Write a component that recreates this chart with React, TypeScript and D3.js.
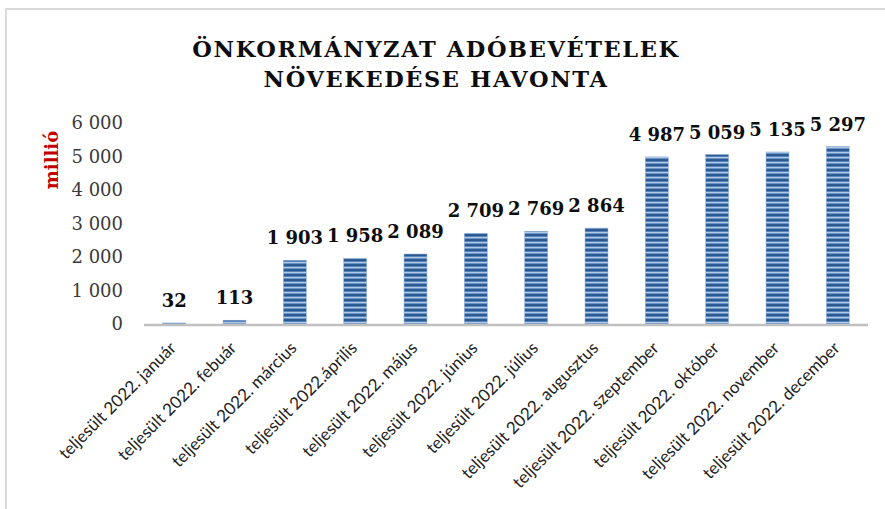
import React from "react";
import * as d3 from "d3";

const categories: string[] = [
  "teljesült 2022. január",
  "teljesült 2022. febuár",
  "teljesült 2022. március",
  "teljesült 2022.április",
  "teljesült 2022. május",
  "teljesült 2022. június",
  "teljesült 2022. július",
  "teljesült 2022. augusztus",
  "teljesült 2022. szeptember",
  "teljesült 2022. október",
  "teljesült 2022. november",
  "teljesült 2022. december",
];
const values: number[] = [32, 113, 1903, 1958, 2089, 2709, 2769, 2864, 4987, 5059, 5135, 5297];
const yTicks: number[] = [0, 1000, 2000, 3000, 4000, 5000, 6000];
const titleLines: string[] = ["ÖNKORMÁNYZAT ADÓBEVÉTELEK", "NÖVEKEDÉSE HAVONTA"];
const yAxisTitle = "millió";

const W = 885;
const H = 509;

const locale = d3.formatLocale({ decimal: ",", thousands: " ", grouping: [3], currency: ["", ""] });
const fmt = locale.format(",d");

export default function App() {
  const x = d3.scaleBand<string>().domain(categories).range([144, 868]).paddingInner(0.62).paddingOuter(0.31);
  const y = d3.scaleLinear().domain([0, 6000]).range([324, 123]);
  const serif = "'DejaVu Serif', serif";

  return (
    <svg width={W} height={H} style={{ position: "absolute", left: 0, top: 0, background: "#fff" }}>
      <defs>
        <pattern id="stripes" width={6} height={5} patternUnits="userSpaceOnUse">
          <rect x={0} y={0} width={6} height={1} fill="#285a91" />
          <rect x={0} y={1} width={6} height={1} fill="#5784ba" />
          <rect x={0} y={2} width={6} height={1} fill="#b3cae7" />
          <rect x={0} y={3} width={6} height={1} fill="#6a94c6" />
          <rect x={0} y={4} width={6} height={1} fill="#2f5d93" />
        </pattern>
      </defs>
      {/* border */}
      <rect x={6} y={9} width={W + 10} height={H + 10} fill="none" stroke="#d9d9d9" strokeWidth={2} />

      {/* title */}
      {titleLines.map((t, i) => (
        <text
          key={t}
          x={436}
          y={56.5 + i * 30.5}
          textAnchor="middle"
          fontFamily={serif}
          fontWeight="bold"
          fontSize={22.5}
          letterSpacing={1.6}
          fill="#0d0d0d"
        >
          {t}
        </text>
      ))}

      {/* y axis title */}
      <text
        transform={`translate(58,160) rotate(-90)`}
        textAnchor="middle"
        fontFamily={serif}
        fontWeight="bold"
        fontSize={18}
        fill="#c00000"
      >
        {yAxisTitle}
      </text>

      {/* y ticks */}
      {yTicks.map((t) => (
        <text
          key={t}
          x={123}
          y={y(t)}
          dy="0.36em"
          textAnchor="end"
          fontFamily={serif}
          fontSize={18}
          fill="#3a3a3a"
        >
          {fmt(t)}
        </text>
      ))}

      {/* bars */}
      {categories.map((c, i) => (
        <rect
          key={c}
          x={x(c)}
          y={y(values[i])}
          width={x.bandwidth()}
          height={y(0) - y(values[i])}
          fill="url(#stripes)"
          stroke="#8eaedb"
          strokeWidth={0.5}
        />
      ))}

      {/* x axis line */}
      <line x1={144} x2={868} y1={325} y2={325} stroke="#c0c0c0" strokeWidth={2.5} />

      {/* data labels */}
      {categories.map((c, i) => (
        <text
          key={c}
          x={(x(c) as number) + x.bandwidth() / 2}
          y={y(values[i]) - 16}
          textAnchor="middle"
          fontFamily={serif}
          fontWeight="bold"
          fontSize={18}
          fill="#0d0d0d"
        >
          {fmt(values[i])}
        </text>
      ))}

      {/* x labels */}
      {categories.map((c) => {
        const cx = (x(c) as number) + x.bandwidth() / 2 + 3;
        return (
          <text
            key={c}
            transform={`translate(${cx},349) rotate(-45)`}
            textAnchor="end"
            fontFamily="Lato, sans-serif"
            fontSize={17}
            fill="#222"
          >
            {c}
          </text>
        );
      })}
    </svg>
  );
}
